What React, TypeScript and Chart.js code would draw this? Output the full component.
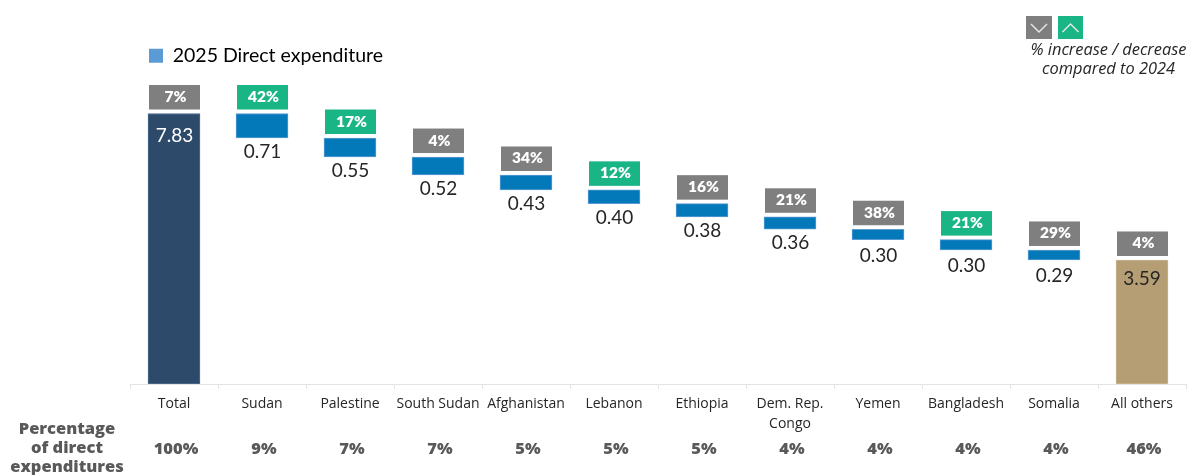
import React, { useEffect, useRef } from "react";
import { Chart, registerables } from "chart.js";

Chart.register(...registerables);

const categories: (string | string[])[] = ["Total", "Sudan", "Palestine", "South Sudan", "Afghanistan", "Lebanon", "Ethiopia", ["Dem. Rep.", "Congo"], "Yemen", "Bangladesh", "Somalia", "All others"];
const expenditure = [7.83, 0.71, 0.55, 0.52, 0.43, 0.40, 0.38, 0.36, 0.30, 0.30, 0.29, 3.59];
const changePct = [7, 42, 17, 4, 34, 12, 16, 21, 38, 21, 29, 4];
const increased = [false, true, true, false, false, true, false, false, false, true, false, false];
const sharePct = [100, 9, 7, 7, 5, 5, 5, 4, 4, 4, 4, 46];
const seriesName = "2025 Direct expenditure";
const rowTitle = ["Percentage", "of direct", "expenditures"];
const noteLines = ["% increase / decrease", "compared to 2024"];

const GREY = "#7f7f7f";
const GREEN = "#1ab585";

function floatingBars(values: number[]): [number, number][] {
  let level = values[0];
  return values.map((v, i) => {
    if (i === 0 || i === values.length - 1) return [0, v];
    const range: [number, number] = [level - v, level];
    level -= v;
    return range;
  });
}

const annotations = {
  id: "annotations",
  afterDatasetsDraw(chart: any) {
    const { ctx, scales } = chart;
    const x = scales.x;
    const y = scales.y;
    const ranges = floatingBars(expenditure);
    ctx.save();
    ctx.textAlign = "center";
    ctx.textBaseline = "middle";

    ranges.forEach((r, i) => {
      const cx = x.getPixelForValue(i);
      const top = y.getPixelForValue(r[1]);
      const bottom = y.getPixelForValue(r[0]);
      // change badge
      ctx.fillStyle = increased[i] ? GREEN : GREY;
      ctx.fillRect(cx - 25, top - 28.5, 51, 24.5);
      ctx.fillStyle = "#ffffff";
      ctx.font = "800 15.5px Lato";
      ctx.fillText(`${changePct[i]}%`, cx + 1.5, top - 16.5);
      // value label
      ctx.font = "19px Lato";
      const last = i === expenditure.length - 1;
      if (i === 0) {
        ctx.fillStyle = "#ffffff";
        ctx.fillText(expenditure[i].toFixed(2), cx + 0.5, top + 22);
      } else if (last) {
        ctx.fillStyle = "#262626";
        ctx.fillText(expenditure[i].toFixed(2), cx, top + 19);
      } else {
        // the thinnest bars carry their labels a little further down
        const gap = bottom - top < 12 ? 16 : 14;
        ctx.fillStyle = "#262626";
        ctx.fillText(expenditure[i].toFixed(2), cx + 0.5, bottom + gap);
      }
      // share row
      ctx.fillStyle = "#595959";
      ctx.font = "800 16.5px 'Open Sans'";
      ctx.fillText(`${sharePct[i]}%`, cx + 2, 449.5);
    });

    // row title
    ctx.fillStyle = "#595959";
    ctx.font = "800 16.5px 'Open Sans'";
    rowTitle.forEach((t, i) => ctx.fillText(t, 67, 429 + i * 19));

    // direction key
    const icon = (l: number, w: number, color: string, up: boolean) => {
      ctx.fillStyle = color;
      ctx.fillRect(l, 16, w, 23);
      ctx.strokeStyle = "#e8e8e8";
      ctx.lineWidth = 1.4;
      ctx.beginPath();
      const c = l + w / 2;
      ctx.moveTo(c - 8, up ? 32 : 24);
      ctx.lineTo(c, up ? 24 : 32);
      ctx.lineTo(c + 8, up ? 32 : 24);
      ctx.stroke();
    };
    icon(1026, 26, GREY, false);
    icon(1058, 25, GREEN, true);

    ctx.fillStyle = "#262626";
    ctx.font = "italic 16.4px 'Open Sans'";
    noteLines.forEach((t, i) => ctx.fillText(t, 1108.5, 50 + i * 19));
    ctx.restore();
  },
};

export default function App() {
  const ref = useRef<HTMLCanvasElement>(null);
  useEffect(() => {
    const last = expenditure.length - 1;
    const colorAt = (i: number) => (i === 0 ? "#2e4a6b" : i === last ? "#b59e74" : "#0479b9");
    const chart = new Chart(ref.current!, {
      type: "bar",
      data: {
        labels: categories as any,
        datasets: [
          {
            label: seriesName,
            data: floatingBars(expenditure) as any,
            backgroundColor: expenditure.map((_, i) => colorAt(i)),
            borderColor: expenditure.map((_, i) => (i === last ? "#c9b692" : i === 0 ? "#4f6d94" : "#5b9bd5")),
            borderWidth: 1,
            borderSkipped: false,
            barThickness: 52,
          },
        ],
      },
      options: {
        responsive: false,
        animation: false,
        layout: { padding: { left: 130, right: 3, top: 27, bottom: 0 } },
        plugins: {
          tooltip: { enabled: false },
          legend: {
            position: "top",
            align: "start",
            labels: {
              padding: 19,
              boxWidth: 14,
              boxHeight: 14,
              color: "#262626",
              font: { family: "Lato", size: 19.5 },
              generateLabels: () => [
                { text: seriesName, fillStyle: "#5b9bd5", strokeStyle: "#5b9bd5", lineWidth: 0, hidden: false, datasetIndex: 0 } as any,
              ],
            },
          },
        },
        scales: {
          x: {
            offset: true,
            afterFit: (s: any) => { s.height = 91; },
            grid: { drawOnChartArea: false, drawTicks: true, tickLength: 5, color: "#e3e3e3", offset: true },
            border: { color: "#e3e3e3", width: 1 },
            ticks: {
              autoSkip: false,
              maxRotation: 0,
              minRotation: 0,
              padding: 5,
              color: "#262626",
              font: { family: "Open Sans", size: 14, lineHeight: 1.43 },
            },
          },
          y: {
            display: false,
            min: 0,
            max: 8.93,
          },
        },
      },
      plugins: [annotations],
    } as any);
    return () => chart.destroy();
  }, []);
  return (
    <canvas
      ref={ref}
      width={1189}
      height={475}
      style={{ position: "fixed", left: 0, top: 0, display: "block", background: "#ffffff" }}
    />
  );
}
